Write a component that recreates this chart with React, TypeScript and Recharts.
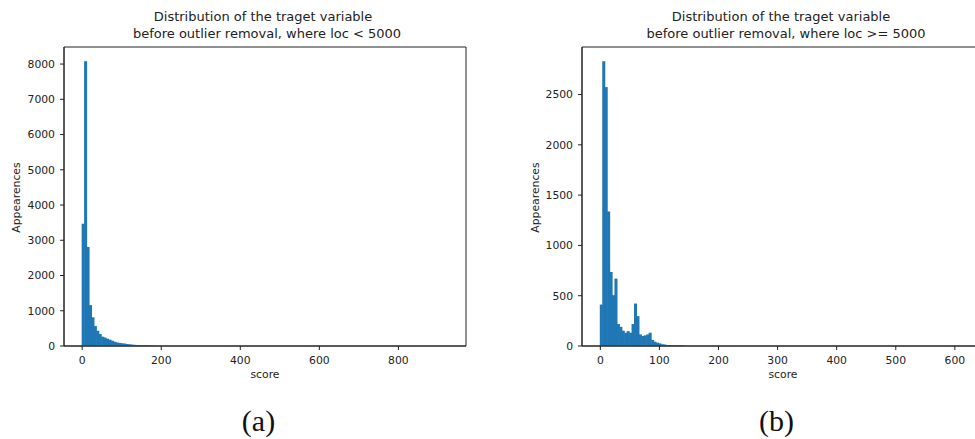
import { ComposedChart, Bar, XAxis, YAxis, ReferenceArea } from 'recharts';

// histogram counts, 150 equal bins from 0 to the max score; only the visible leading bins are listed
const BINS = 150;
const leftMax = 925;
const rightMax = 620;

const leftCounts = [
  3470, 8080, 2810, 1160, 815, 565, 433, 339, 264, 240,
  207, 180, 150, 122, 100, 88, 78, 70, 56, 48,
  42, 33, 30, 27, 24, 22, 20, 17, 12, 6, 4,
];

const rightCounts = [
  412, 2831, 2574, 1337, 736, 505, 670, 218, 191, 152,
  132, 148, 132, 218, 422, 297, 115, 99, 106, 115,
  132, 60, 43, 33, 26, 17, 15, 10, 10, 9,
  9, 8, 8, 6, 3,
];

const leftTicksX = [0, 200, 400, 600, 800];
const leftTicksY = [0, 1000, 2000, 3000, 4000, 5000, 6000, 7000, 8000];
const rightTicksX = [0, 100, 200, 300, 400, 500, 600];
const rightTicksY = [0, 500, 1000, 1500, 2000, 2500];

const FONT = '"DejaVu Sans", sans-serif';
const INK = '#222';
const BLUE = '#1f77b4';

const toBins = (counts: number[], max: number) => {
  const w = max / BINS;
  return counts.map((count, i) => ({ x: (i + 0.5) * w, count }));
};

interface HistProps {
  counts: number[];
  max: number;
  xDomain: [number, number];
  xTicks: number[];
  yTicks: number[];
  width: number;
  yAxisWidth: number;
  right: number;
}

function Hist({ counts, max, xDomain, xTicks, yTicks, width, yAxisWidth, right }: HistProps) {
  const data = toBins(counts, max);
  const yMax = Math.max(...counts) * 1.05;
  const plotW = width - yAxisWidth - right;
  // one bin in pixels, so neighbouring bars touch like a histogram
  const binPx = ((max / BINS) * plotW) / (xDomain[1] - xDomain[0]);
  const tickStyle = { fontSize: 10.8, fill: INK, fontFamily: FONT };

  const binShape = (p: any) => {
    if (!p.height) return <g />;
    const cx = p.x + p.width / 2;
    return <rect x={cx - binPx / 2 - 0.3} y={p.y} width={binPx + 0.6} height={p.height} fill={BLUE} />;
  };

  return (
    <ComposedChart
      width={width}
      height={439}
      data={data}
      margin={{ top: 47, right, bottom: 0, left: 0 }}
      barCategoryGap={0}
      barGap={0}
    >
      <XAxis
        dataKey="x"
        type="number"
        domain={xDomain}
        ticks={xTicks}
        allowDataOverflow
        height={93}
        tickSize={4}
        tickMargin={6}
        tick={tickStyle}
        stroke={INK}
        tickLine={{ stroke: INK }}
      />
      <YAxis
        type="number"
        domain={[0, yMax]}
        ticks={yTicks}
        allowDataOverflow
        width={yAxisWidth}
        tickSize={4}
        tickMargin={5}
        tick={tickStyle}
        stroke={INK}
        tickLine={{ stroke: INK }}
      />
      <Bar dataKey="count" fill={BLUE} shape={binShape} isAnimationActive={false} />
      <ReferenceArea
        x1={xDomain[0]}
        x2={xDomain[1]}
        y1={0}
        y2={yMax}
        fill="none"
        stroke={INK}
        strokeWidth={1}
        ifOverflow="visible"
      />
    </ComposedChart>
  );
}

export default function App() {
  return (
    <div style={{ position: 'absolute', left: 0, top: 0, width: 975, height: 439, overflow: 'hidden', background: '#fff' }}>
      <div style={{ position: 'absolute', left: 0, top: 0 }}>
        <Hist
          counts={leftCounts}
          max={leftMax}
          xDomain={[-46, 971]}
          xTicks={leftTicksX}
          yTicks={leftTicksY}
          width={487}
          yAxisWidth={64}
          right={21}
        />
      </div>
      <div style={{ position: 'absolute', left: 487, top: 0 }}>
        <Hist
          counts={rightCounts}
          max={rightMax}
          xDomain={[-31, 651]}
          xTicks={rightTicksX}
          yTicks={rightTicksY}
          width={520}
          yAxisWidth={95}
          right={22}
        />
      </div>
      <svg width={975} height={439} style={{ position: 'absolute', left: 0, top: 0, pointerEvents: 'none' }}>
        <g fontFamily={FONT} fill={INK} fontSize={13} textAnchor="middle">
          <text x={263} y={21}>Distribution of the traget variable</text>
          <text x={267} y={38}>before outlier removal, where loc &lt; 5000</text>
          <text x={781} y={21}>Distribution of the traget variable</text>
          <text x={786} y={38}>before outlier removal, where loc &gt;= 5000</text>
        </g>
        <g fontFamily={FONT} fill={INK} fontSize={10.8} textAnchor="middle">
          <text x={265} y={378}>score</text>
          <text x={783} y={378}>score</text>
          <text transform="translate(20,197.5) rotate(-90)">Appearences</text>
          <text transform="translate(538.5,197.5) rotate(-90)">Appearences</text>
        </g>
        <g fontFamily={'"Liberation Serif", serif'} fill="#111" fontSize={30} textAnchor="middle">
          <text x={258.5} y={431}>(a)</text>
          <text x={776.5} y={431}>(b)</text>
        </g>
      </svg>
    </div>
  );
}
